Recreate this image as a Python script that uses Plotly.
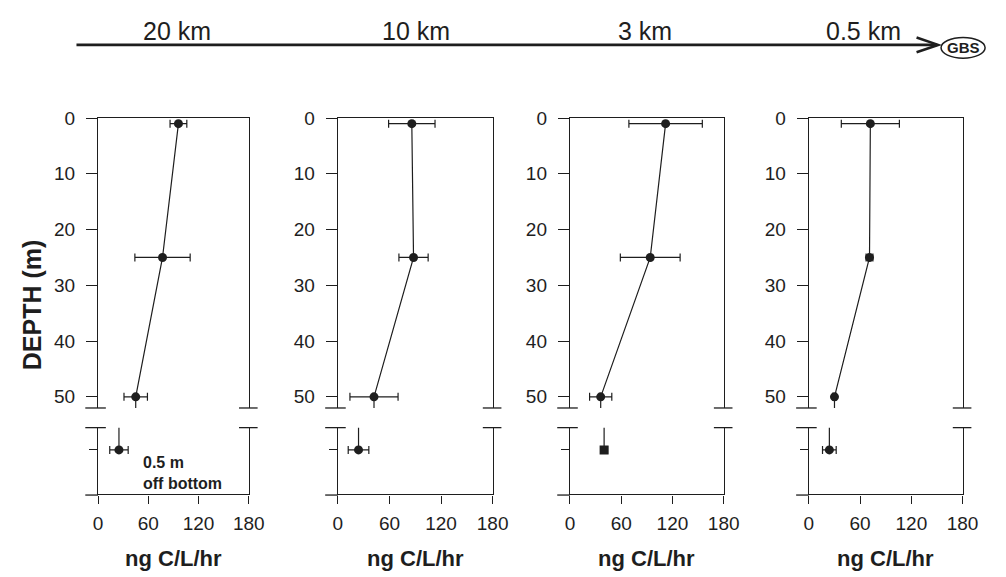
import plotly.graph_objects as go

W, H = 1006, 577

# ---- data ----
distances = ["20 km", "10 km", "3 km", "0.5 km"]
depths = [1, 25, 50]
rate_p1 = [96, 77, 45]
err_p1 = [10, 33, 14]
rate_p2 = [86, 88, 42]
err_p2 = [27, 17, 28]
rate_p3 = [112, 94, 36]
err_p3 = [43, 35, 13]
rate_p4 = [72, 71, 30]
err_p4 = [34, 4, 2]
bottom_rate = [25, 24, 40, 24]
bottom_err = [11, 12, 4, 8]
depth_ticks = [0, 10, 20, 30, 40, 50]
rate_ticks = [0, 60, 120, 180]

rates = [rate_p1, rate_p2, rate_p3, rate_p4]
errs = [err_p1, err_p2, err_p3, err_p4]

# ---- layout geometry (pixels) ----
panel_px = [(95, 249), (340, 498), (577, 734), (821, 978)]
up_top, up_bot = 110, 405
lo_top, lo_bot = 425, 493

def px(x):
    return x / W

def py(y):
    return 1 - y / H

INK = "#1e1e1e"
FONT = "Liberation Sans, Arial, sans-serif"

fig = go.Figure()
layout = dict(
    width=W, height=H, margin=dict(l=0, r=0, t=0, b=0),
    paper_bgcolor="white", plot_bgcolor="white", showlegend=False,
    font=dict(family=FONT, color=INK),
)
shapes = []
annotations = []

for i in range(4):
    ux, uy = f"x{2*i+1}", f"y{2*i+1}"
    lx, ly = f"x{2*i+2}", f"y{2*i+2}"
    ukx = "xaxis" if i == 0 else f"xaxis{2*i+1}"
    uky = "yaxis" if i == 0 else f"yaxis{2*i+1}"
    lkx, lky = f"xaxis{2*i+2}", f"yaxis{2*i+2}"
    x0, x1 = panel_px[i]
    dom = [px(x0), px(x1)]

    layout[ukx] = dict(domain=dom, range=[0, 180], anchor=uy, side="top",
                       showline=True, linecolor=INK, linewidth=1.3,
                       ticks="", showticklabels=False, showgrid=False, zeroline=False)
    layout[uky] = dict(domain=[py(up_bot), py(up_top)], range=[52, 0], anchor=ux,
                       tickvals=depth_ticks, ticks="outside", ticklen=11, tickwidth=1.2,
                       ticklabelstandoff=7,
                       tickcolor=INK, showline=True, mirror=True, linecolor=INK,
                       linewidth=1.3, showgrid=False, zeroline=False,
                       tickfont=dict(size=19, family=FONT, color=INK))
    layout[lkx] = dict(domain=dom, range=[0, 180], anchor=ly,
                       tickvals=rate_ticks, ticks="outside", ticklen=8, tickwidth=1.2,
                       ticklabelstandoff=4,
                       tickcolor=INK, showline=True, linecolor=INK, linewidth=1.3,
                       showgrid=False, zeroline=False,
                       tickfont=dict(size=19, family=FONT, color=INK))
    layout[lky] = dict(domain=[py(lo_bot), py(lo_top)], range=[0, 3], anchor=lx,
                       tickvals=[2], showticklabels=False, ticks="outside", ticklen=8,
                       tickwidth=1.2, tickcolor=INK, showline=True, mirror=True,
                       linecolor=INK, linewidth=1.3, showgrid=False, zeroline=False)

    r, e = rates[i], errs[i]
    # profile
    fig.add_trace(go.Scatter(
        x=r, y=depths, xaxis=ux, yaxis=uy, mode="lines+markers",
        line=dict(color=INK, width=1.2), marker=dict(size=9, color=INK),
        error_x=dict(type="data", array=e, color=INK, thickness=1.2, width=4),
    ))
    # stub continuing below the 50 m point (clipped at the axis break)
    fig.add_trace(go.Scatter(
        x=[r[-1], r[-1]], y=[depths[-1], 60], xaxis=ux, yaxis=uy, mode="lines",
        line=dict(color=INK, width=1.2),
    ))
    # near-bottom sample
    fig.add_trace(go.Scatter(
        x=[bottom_rate[i], bottom_rate[i]], y=[2, 10], xaxis=lx, yaxis=ly, mode="lines",
        line=dict(color=INK, width=1.2),
    ))
    fig.add_trace(go.Scatter(
        x=[bottom_rate[i]], y=[2], xaxis=lx, yaxis=ly, mode="markers",
        marker=dict(size=9, color=INK, symbol="square" if i == 2 else "circle"),
        error_x=dict(type="data", array=[bottom_err[i]], color=INK, thickness=1.2, width=4),
    ))

    # axis break caps
    for yy in (up_bot, lo_top):
        shapes.append(dict(type="line", xref="paper", yref="paper",
                           x0=px(x0 - 13), x1=px(x0 + 8), y0=py(yy), y1=py(yy),
                           line=dict(color=INK, width=1.3)))
        shapes.append(dict(type="line", xref="paper", yref="paper",
                           x0=px(x1 - 10), x1=px(x1 + 9), y0=py(yy), y1=py(yy),
                           line=dict(color=INK, width=1.3)))
    # bottom axis overhang left of zero
    shapes.append(dict(type="line", xref="paper", yref="paper",
                       x0=px(x0 - 13), x1=px(x0), y0=py(lo_bot + 0.6), y1=py(lo_bot + 0.6),
                       line=dict(color=INK, width=1.3)))

    # x title
    annotations.append(dict(text="<b>ng C/L/hr</b>", xref="paper", yref="paper",
                            x=px((x0 + x1) / 2), y=py(558), xanchor="center", yanchor="middle",
                            showarrow=False, font=dict(size=22, family=FONT, color=INK)))

# distance arrow
shapes.append(dict(type="line", xref="paper", yref="paper", x0=px(73), x1=px(952),
                   y0=py(35.5), y1=py(35.5), line=dict(color=INK, width=2.6)))
shapes.append(dict(type="path", xref="paper", yref="paper",
                   path=f"M {px(931)},{py(28)} L {px(953)},{py(35.5)} L {px(931)},{py(43)}",
                   line=dict(color=INK, width=2.6)))
shapes.append(dict(type="circle", xref="paper", yref="paper",
                   x0=px(956), x1=px(1001), y0=py(49), y1=py(28),
                   line=dict(color=INK, width=1.5)))
annotations.append(dict(text="<b>GBS</b>", xref="paper", yref="paper",
                        x=px(978.5), y=py(38.5), xanchor="center", yanchor="middle",
                        showarrow=False, font=dict(size=15, family=FONT, color=INK)))

label_x = [176, 420, 654, 877]
for lab, xc in zip(distances, label_x):
    annotations.append(dict(text=lab, xref="paper", yref="paper", x=px(xc), y=py(21),
                            xanchor="center", yanchor="middle", showarrow=False,
                            font=dict(size=25, family=FONT, color=INK)))

annotations.append(dict(text="<b>DEPTH (m)</b>", xref="paper", yref="paper",
                        x=px(27), y=py(300), xanchor="center", yanchor="middle",
                        textangle=-90, showarrow=False,
                        font=dict(size=25, family=FONT, color=INK)))
annotations.append(dict(text="<b>0.5 m<br>off bottom</b>", xref="paper", yref="paper",
                        x=px(139), y=py(471), xanchor="left", yanchor="middle", align="left",
                        showarrow=False, font=dict(size=16, family=FONT, color=INK)))

layout["shapes"] = shapes
layout["annotations"] = annotations
fig.update_layout(**layout)
fig.write_html("out.html", post_script="document.body.style.margin='0px';")
